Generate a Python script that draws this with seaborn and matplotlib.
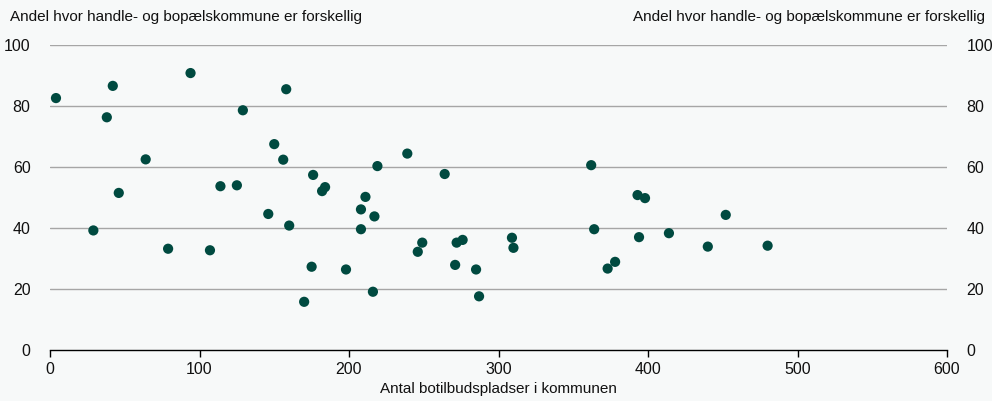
import matplotlib
matplotlib.use("Agg")
import matplotlib.pyplot as plt
import seaborn as sns
import pandas as pd

# --- DATI ---
botilbud = [4, 29, 38, 42, 46, 64, 79, 94, 107, 114, 125, 129, 146, 150, 156, 158, 160,
            170, 176, 175, 182, 184, 198, 208, 208, 211, 216, 217, 219, 239, 246, 249,
            264, 271, 272, 276, 285, 287, 309, 310, 362, 364, 373, 378, 393, 398, 394,
            414, 440, 452, 480]
andel = [82.6, 39.2, 76.3, 86.6, 51.5, 62.5, 33.2, 90.8, 32.7, 53.7, 54.0, 78.6, 44.6,
         67.5, 62.4, 85.5, 40.8, 15.8, 57.4, 27.3, 52.1, 53.4, 26.4, 46.1, 39.6, 50.2,
         19.1, 43.8, 60.3, 64.4, 32.2, 35.2, 57.7, 27.9, 35.2, 36.1, 26.4, 17.6, 36.8,
         33.5, 60.6, 39.6, 26.7, 28.9, 50.8, 49.8, 37.0, 38.3, 33.9, 44.3, 34.2]

x_ticks = [0, 100, 200, 300, 400, 500, 600]
y_ticks = [0, 20, 40, 60, 80, 100]
y_title = "Andel hvor handle- og bopælskommune er forskellig"
x_title = "Antal botilbudspladser i kommunen"

df = pd.DataFrame({"botilbud": botilbud, "andel": andel})

BG = "#f7f9f9"
DOT = "#004a40"
TXT = "#111111"

sns.set_theme(style="white")
plt.rcParams['font.family'] = ['Liberation Sans', 'DejaVu Sans']
plt.rcParams['text.color'] = TXT
plt.rcParams['xtick.color'] = TXT
plt.rcParams['ytick.color'] = TXT
plt.rcParams['axes.labelcolor'] = TXT

fig = plt.figure(figsize=(9.92, 4.01), dpi=100, facecolor=BG)
ax = fig.add_axes([50 / 992, 51 / 401, 897 / 992, 305 / 401])
ax.set_facecolor(BG)

sns.scatterplot(data=df, x="botilbud", y="andel", ax=ax, color=DOT, s=54,
                edgecolor="none", zorder=3)

ax.set_xlim(0, 600)
ax.set_ylim(0, 100)
ax.set_xticks(x_ticks)
ax.set_yticks(y_ticks)

for v in y_ticks[1:]:
    ax.axhline(v, color="#a6a6a6", linewidth=1, zorder=1)

for side in ["top", "left", "right"]:
    ax.spines[side].set_visible(False)
ax.spines["bottom"].set_color("black")
ax.spines["bottom"].set_linewidth(1)

ax.tick_params(axis="x", direction="out", length=5, width=1, color="black",
               labelcolor=TXT, labelsize=11.5, pad=4, bottom=True)
ax.tick_params(axis="y", length=0, labelsize=11.5, pad=14, left=False, right=False,
               labelcolor=TXT, labelleft=True, labelright=True)

ax.set_xlabel(x_title, fontsize=11, labelpad=3)
ax.set_ylabel("")

fig.text(10 / 992, 1 - 17 / 401, y_title, fontsize=11, ha="left", va="center")
fig.text(985 / 992, 1 - 17 / 401, y_title, fontsize=11, ha="right", va="center")

fig.savefig("out.png", dpi=100, facecolor=BG)
